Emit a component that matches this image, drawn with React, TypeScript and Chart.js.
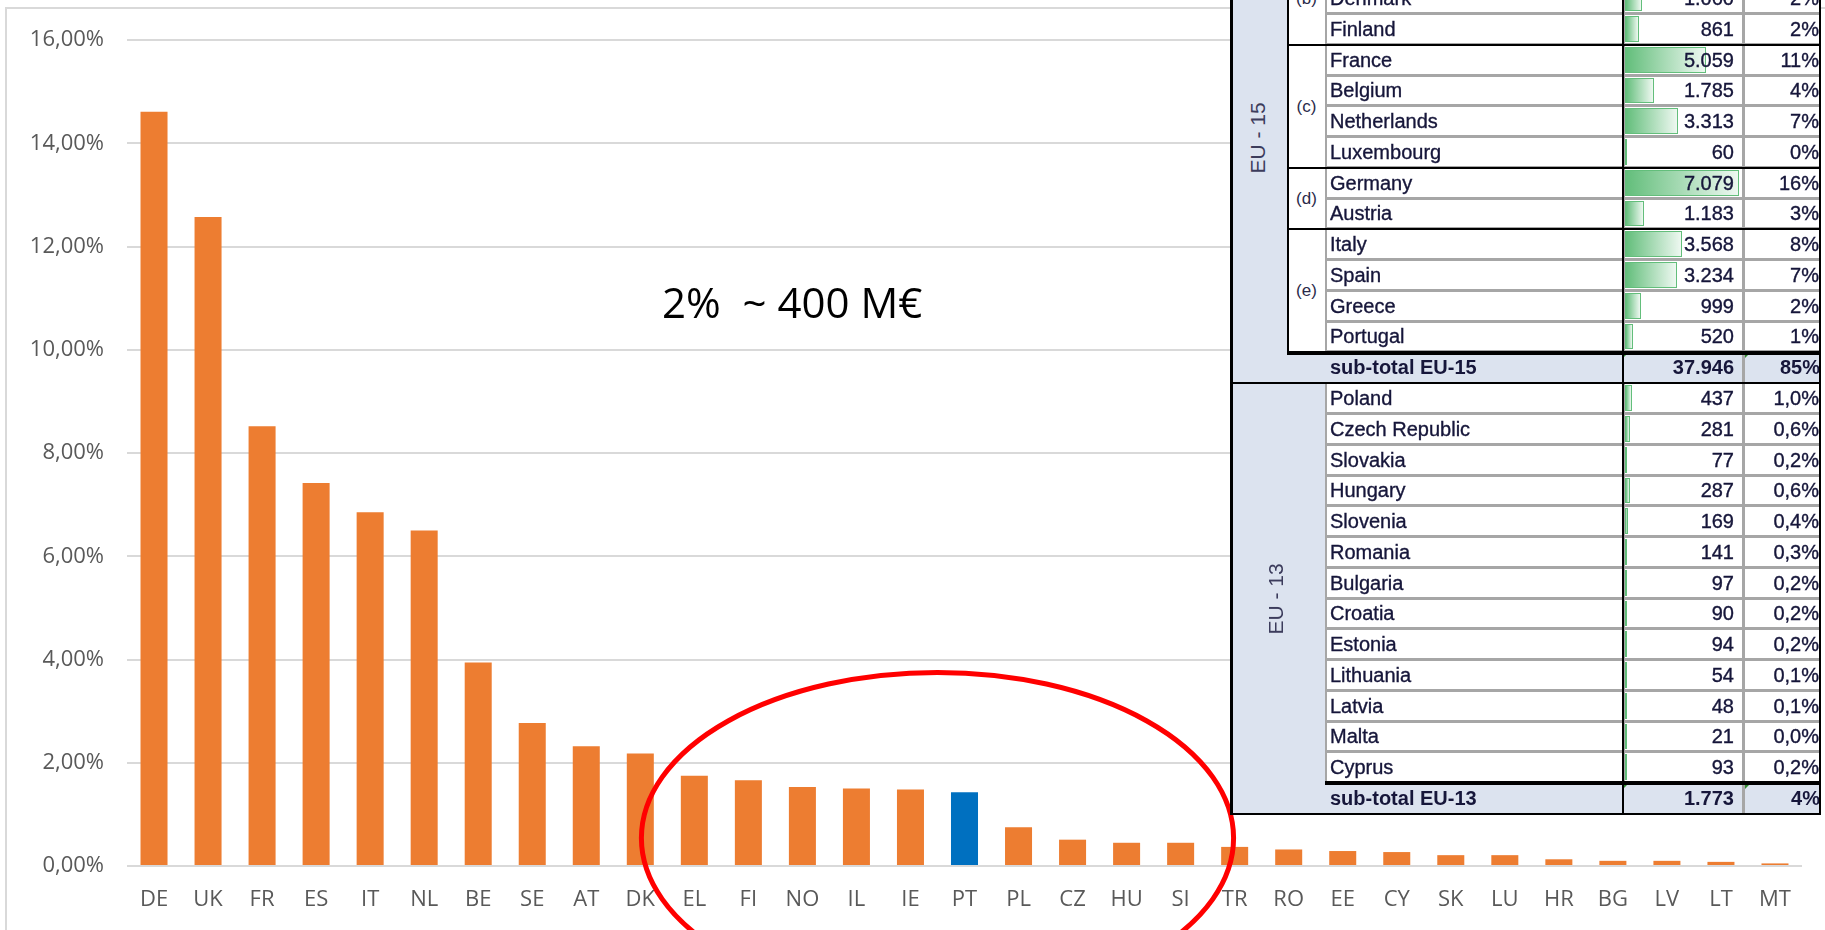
import React, { useEffect, useRef } from "react";
import { Chart, registerables } from "chart.js";

Chart.register(...registerables);

// ---------- Chart data ----------
const categories = ["DE", "UK", "FR", "ES", "IT", "NL", "BE", "SE", "AT", "DK", "EL", "FI", "NO", "IL", "IE", "PT", "PL", "CZ", "HU", "SI", "TR", "RO", "EE", "CY", "SK", "LU", "HR", "BG", "LV", "LT", "MT"];
const shares = [14.61, 12.57, 8.52, 7.42, 6.85, 6.5, 3.94, 2.77, 2.32, 2.18, 1.75, 1.66, 1.53, 1.5, 1.48, 1.43, 0.75, 0.51, 0.45, 0.45, 0.37, 0.32, 0.29, 0.27, 0.21, 0.21, 0.13, 0.1, 0.1, 0.08, 0.05];
const highlighted = "PT";
const yMax = 16;
const yStep = 2;
const annotationText = "2%  ~ 400 M€";
// ellipse annotation, anchored to the scales
const ellipseBetween = ["IE", "PT"];
const ellipseHalfWidthCats = 5.48;
const ellipseCenterValue = 0.54;
const ellipseHalfHeightValue = 3.21;

// ---------- Table data ----------
const eu15Names = ["Denmark", "Finland", "France", "Belgium", "Netherlands", "Luxembourg", "Germany", "Austria", "Italy", "Spain", "Greece", "Portugal"];
const eu15Values = [1060, 861, 5059, 1785, 3313, 60, 7079, 1183, 3568, 3234, 999, 520];
const eu15Pct = ["2%", "2%", "11%", "4%", "7%", "0%", "16%", "3%", "8%", "7%", "2%", "1%"];
const subgroupLetters = ["(b)", "(c)", "(d)", "(e)"];
const subgroupStarts = [-1, 2, 6, 8];
const subgroupEnds = [2, 6, 8, 12];
const eu15Subtotal = { label: "sub-total EU-15", value: 37946, pct: "85%" };
const eu13Names = ["Poland", "Czech Republic", "Slovakia", "Hungary", "Slovenia", "Romania", "Bulgaria", "Croatia", "Estonia", "Lithuania", "Latvia", "Malta", "Cyprus"];
const eu13Values = [437, 281, 77, 287, 169, 141, 97, 90, 94, 54, 48, 21, 93];
const eu13Pct = ["1,0%", "0,6%", "0,2%", "0,6%", "0,4%", "0,3%", "0,2%", "0,2%", "0,2%", "0,1%", "0,1%", "0,0%", "0,2%"];
const eu13Subtotal = { label: "sub-total EU-13", value: 1773, pct: "4%" };

const fmt = (n: number) => String(n).replace(/\B(?=(\d{3})+(?!\d))/g, ".");

const PITCH = 30.77;
const START = -16.8;
const rowTop = (i: number) => Math.round(START + i * PITCH);

const BLUE = "#dce3ef";
const GRAY = "#a6a6a6";
const TXT = "#16163a";
const TFONT = '"Liberation Sans", Arial, sans-serif';

// column positions (local to table)
const X_GROUP = 2;
const X_LETTER = 58;
const X_NAME = 95;
const X_VALUE = 393;
const X_PCT = 513;
const X_END = 590;

function Cell(props: { left: number; width: number; top: number; height: number; children?: any; align?: string; bold?: boolean; bg?: string; pad?: number; borders?: boolean }) {
  const { left, width, top, height, align, bold, bg, pad, borders } = props;
  const b = borders !== false;
  return (
    <div
      style={{
        position: "absolute",
        left,
        top,
        width,
        height,
        boxSizing: "border-box",
        background: bg || "#fff",
        borderTop: b ? `1px solid ${GRAY}` : "none",
        borderBottom: b ? `2px solid ${GRAY}` : "none",
        borderLeft: b ? `2px solid ${GRAY}` : "none",
        borderRight: b ? `1px solid ${GRAY}` : "none",
        font: `${bold ? "bold " : ""}20px ${TFONT}`,
        color: TXT,
        WebkitTextStroke: bold ? "0px" : "0.35px " + TXT,
        display: "flex",
        alignItems: "center",
        justifyContent: align === "right" ? "flex-end" : "flex-start",
        paddingLeft: align === "right" ? 0 : pad ?? 3,
        paddingRight: align === "right" ? pad ?? 0 : 0,
        whiteSpace: "nowrap",
        overflow: "hidden",
      } as any}
    >
      {props.children}
    </div>
  );
}

function Line(props: { left: number; top: number; width: number; height: number }) {
  return <div style={{ position: "absolute", background: "#000", ...props }} />;
}

function DataBar(props: { value: number; max: number }) {
  const w = Math.max(2, (props.value / props.max) * 114);
  return (
    <div
      style={{
        position: "absolute",
        left: 0,
        top: 1,
        bottom: 1,
        width: w,
        boxSizing: "border-box",
        border: "1px solid #63BE7B",
        background: "linear-gradient(90deg, #63BE7B 0%, #eef8f1 100%)",
      }}
    />
  );
}

function Marker() {
  return (
    <div
      style={{
        position: "absolute",
        left: 0,
        top: 0,
        width: 0,
        height: 0,
        borderTop: "6px solid #2e8b2e",
        borderRight: "6px solid transparent",
      }}
    />
  );
}

function Table() {
  const maxVal = Math.max(...eu15Values, ...eu13Values);
  const els: any[] = [];
  const bottom = rowTop(27);

  // group columns
  els.push(<div key="g15" style={{ position: "absolute", left: X_GROUP, top: 0, width: X_LETTER - X_GROUP, height: rowTop(13), background: BLUE }} />);
  els.push(<div key="g13" style={{ position: "absolute", left: X_GROUP, top: rowTop(13), width: X_NAME - X_GROUP, height: bottom - rowTop(13), background: BLUE }} />);

  // subgroup letter boxes
  subgroupLetters.forEach((l, k) => {
    const t = rowTop(subgroupStarts[k]);
    const h = rowTop(subgroupEnds[k]) - t;
    els.push(
      <div key={"sg" + k} style={{ position: "absolute", left: X_LETTER, top: t, width: X_NAME - X_LETTER, height: h, background: "#fff", display: "flex", alignItems: "center", justifyContent: "center", font: `17px ${TFONT}`, color: "#2a2a4a" }}>
        {l}
      </div>
    );
  });

  const dataRow = (i: number, name: string, value: number, pct: string, key: string) => {
    const t = rowTop(i);
    const h = rowTop(i + 1) - t;
    els.push(<Cell key={key + "n"} left={X_NAME} width={X_VALUE - X_NAME} top={t} height={h}>{name}</Cell>);
    els.push(
      <Cell key={key + "v"} left={X_VALUE} width={X_PCT - X_VALUE} top={t} height={h} align="right" pad={8}>
        <DataBar value={value} max={maxVal} />
        <span style={{ position: "relative" }}>{fmt(value)}</span>
      </Cell>
    );
    els.push(<Cell key={key + "p"} left={X_PCT} width={X_END - X_PCT} top={t} height={h} align="right" pad={0}>{pct}</Cell>);
  };

  eu15Names.forEach((n, i) => dataRow(i, n, eu15Values[i], eu15Pct[i], "a" + i));
  eu13Names.forEach((n, i) => dataRow(13 + i, n, eu13Values[i], eu13Pct[i], "b" + i));

  const subRow = (i: number, s: { label: string; value: number; pct: string }, key: string) => {
    const t = rowTop(i);
    const h = rowTop(i + 1) - t;
    els.push(<div key={key + "bg"} style={{ position: "absolute", left: X_GROUP, top: t, width: X_END - X_GROUP, height: h, background: BLUE }} />);
    els.push(<Cell key={key + "n"} left={X_NAME} width={X_VALUE - X_NAME} top={t} height={h} bold bg={BLUE} borders={false} pad={5}>{s.label}</Cell>);
    els.push(
      <Cell key={key + "v"} left={X_VALUE} width={X_PCT - X_VALUE} top={t} height={h} align="right" bold bg={BLUE} borders={false} pad={9}>
        <Marker />
        {fmt(s.value)}
      </Cell>
    );
    els.push(
      <div key={key + "ps"} style={{ position: "absolute", left: X_PCT - 1, top: t, width: 3, height: h, background: GRAY }} />
    );
    els.push(
      <Cell key={key + "p"} left={X_PCT + 2} width={X_END - X_PCT - 2} top={t} height={h} align="right" bold bg={BLUE} borders={false} pad={0}>
        <Marker />
        {s.pct}
      </Cell>
    );
  };
  subRow(12, eu15Subtotal, "s15");
  subRow(26, eu13Subtotal, "s13");

  // black lines
  els.push(<Line key="l0" left={0} top={0} width={3} height={bottom + 1} />);
  els.push(<Line key="l1" left={X_VALUE - 1} top={0} width={2} height={bottom + 1} />);
  els.push(<Line key="l2" left={X_END - 1} top={0} width={2} height={bottom + 1} />);
  els.push(<Line key="l3" left={X_LETTER - 1} top={0} width={2} height={rowTop(12) + 2} />);
  [2, 6, 8].forEach((r) => els.push(<Line key={"gs" + r} left={X_LETTER - 1} top={rowTop(r) - 1} width={X_END - X_LETTER + 2} height={2} />));
  els.push(<Line key="l4" left={X_LETTER - 1} top={rowTop(12) - 1} width={X_END - X_LETTER + 2} height={4} />);
  els.push(<Line key="l5" left={0} top={rowTop(13) - 1} width={X_END + 1} height={2} />);
  els.push(<Line key="l6" left={X_NAME} top={rowTop(26) - 2} width={X_END - X_NAME + 1} height={4} />);
  els.push(<Line key="l7" left={0} top={bottom - 1} width={X_END + 1} height={2} />);

  // rotated group labels
  const rot = (key: string, text: string, cx: number, cy: number) =>
    els.push(
      <div key={key} style={{ position: "absolute", left: cx - 60, top: cy - 14, width: 120, height: 28, lineHeight: "28px", textAlign: "center", transform: "rotate(-90deg)", font: `21px ${TFONT}`, color: "#3c3c5c", whiteSpace: "nowrap" }}>
        {text}
      </div>
    );
  rot("r15", "EU - 15", 30, 138);
  rot("r13", "EU - 13", 48, Math.round((rowTop(13) + bottom) / 2));

  return <div style={{ position: "absolute", left: 1230, top: 0, width: 595, height: bottom + 2 }}>{els}</div>;
}

export default function App() {
  const ref = useRef<HTMLCanvasElement>(null);

  useEffect(() => {
    const canvas = ref.current;
    if (!canvas) return;
    const ellipsePlugin = {
      id: "ellipseNote",
      afterDraw(chart: any) {
        const xs = chart.scales.x;
        const ys = chart.scales.y;
        const i1 = categories.indexOf(ellipseBetween[0]);
        const i2 = categories.indexOf(ellipseBetween[1]);
        const cx = (xs.getPixelForValue(i1) + xs.getPixelForValue(i2)) / 2;
        const step = xs.getPixelForValue(1) - xs.getPixelForValue(0);
        const rx = ellipseHalfWidthCats * step;
        const cy = ys.getPixelForValue(ellipseCenterValue);
        const ry = ys.getPixelForValue(0) - ys.getPixelForValue(ellipseHalfHeightValue);
        const c = chart.ctx;
        c.save();
        c.beginPath();
        c.ellipse(cx, cy, rx, ry, 0, 0, Math.PI * 2);
        c.strokeStyle = "#ff0000";
        c.lineWidth = 5;
        c.stroke();
        c.restore();
      },
    };
    const font = { family: '"Open Sans", sans-serif', size: 22 };
    const chart = new Chart(canvas, {
      type: "bar",
      data: {
        labels: categories,
        datasets: [
          {
            data: shares,
            backgroundColor: categories.map((c) => (c === highlighted ? "#0070C0" : "#ED7D31")),
            categoryPercentage: 1,
            barPercentage: 0.5,
          },
        ],
      },
      options: {
        responsive: false,
        animation: false,
        devicePixelRatio: 1,
        layout: { padding: { left: 7, right: 23, top: 40, bottom: 0 } },
        plugins: { legend: { display: false }, tooltip: { enabled: false } },
        scales: {
          x: {
            grid: { display: false, drawTicks: false },
            border: { display: false },
            ticks: { color: "#595959", font, padding: 21, maxRotation: 0, autoSkip: false },
            afterFit: (a: any) => {
              a.height = 64;
            },
          },
          y: {
            min: 0,
            max: yMax,
            grid: { color: "#d9d9d9", lineWidth: 2, drawTicks: false },
            border: { display: false },
            ticks: {
              stepSize: yStep,
              padding: 23,
              color: "#595959",
              font,
              callback: (v: any) => Number(v).toFixed(2).replace(".", ",") + "%",
            },
            afterFit: (a: any) => {
              a.width = 120;
            },
          },
        },
      },
      plugins: [ellipsePlugin],
    } as any);
    return () => chart.destroy();
  }, []);

  return (
    <div style={{ position: "fixed", left: 0, top: 0, width: 1825, height: 930, overflow: "hidden", background: "#fff" }}>
      <div style={{ position: "absolute", left: 5, top: 7, width: 1900, height: 1000, border: "2px solid #d9d9d9" }} />
      <canvas ref={ref} width={1825} height={930} style={{ position: "absolute", left: 0, top: 0 }} />
      <div style={{ position: "absolute", left: 662, top: 281, font: '42px "Open Sans", sans-serif', lineHeight: 1, whiteSpace: "pre", color: "#000" }}>{annotationText}</div>
      <Table />
    </div>
  );
}
